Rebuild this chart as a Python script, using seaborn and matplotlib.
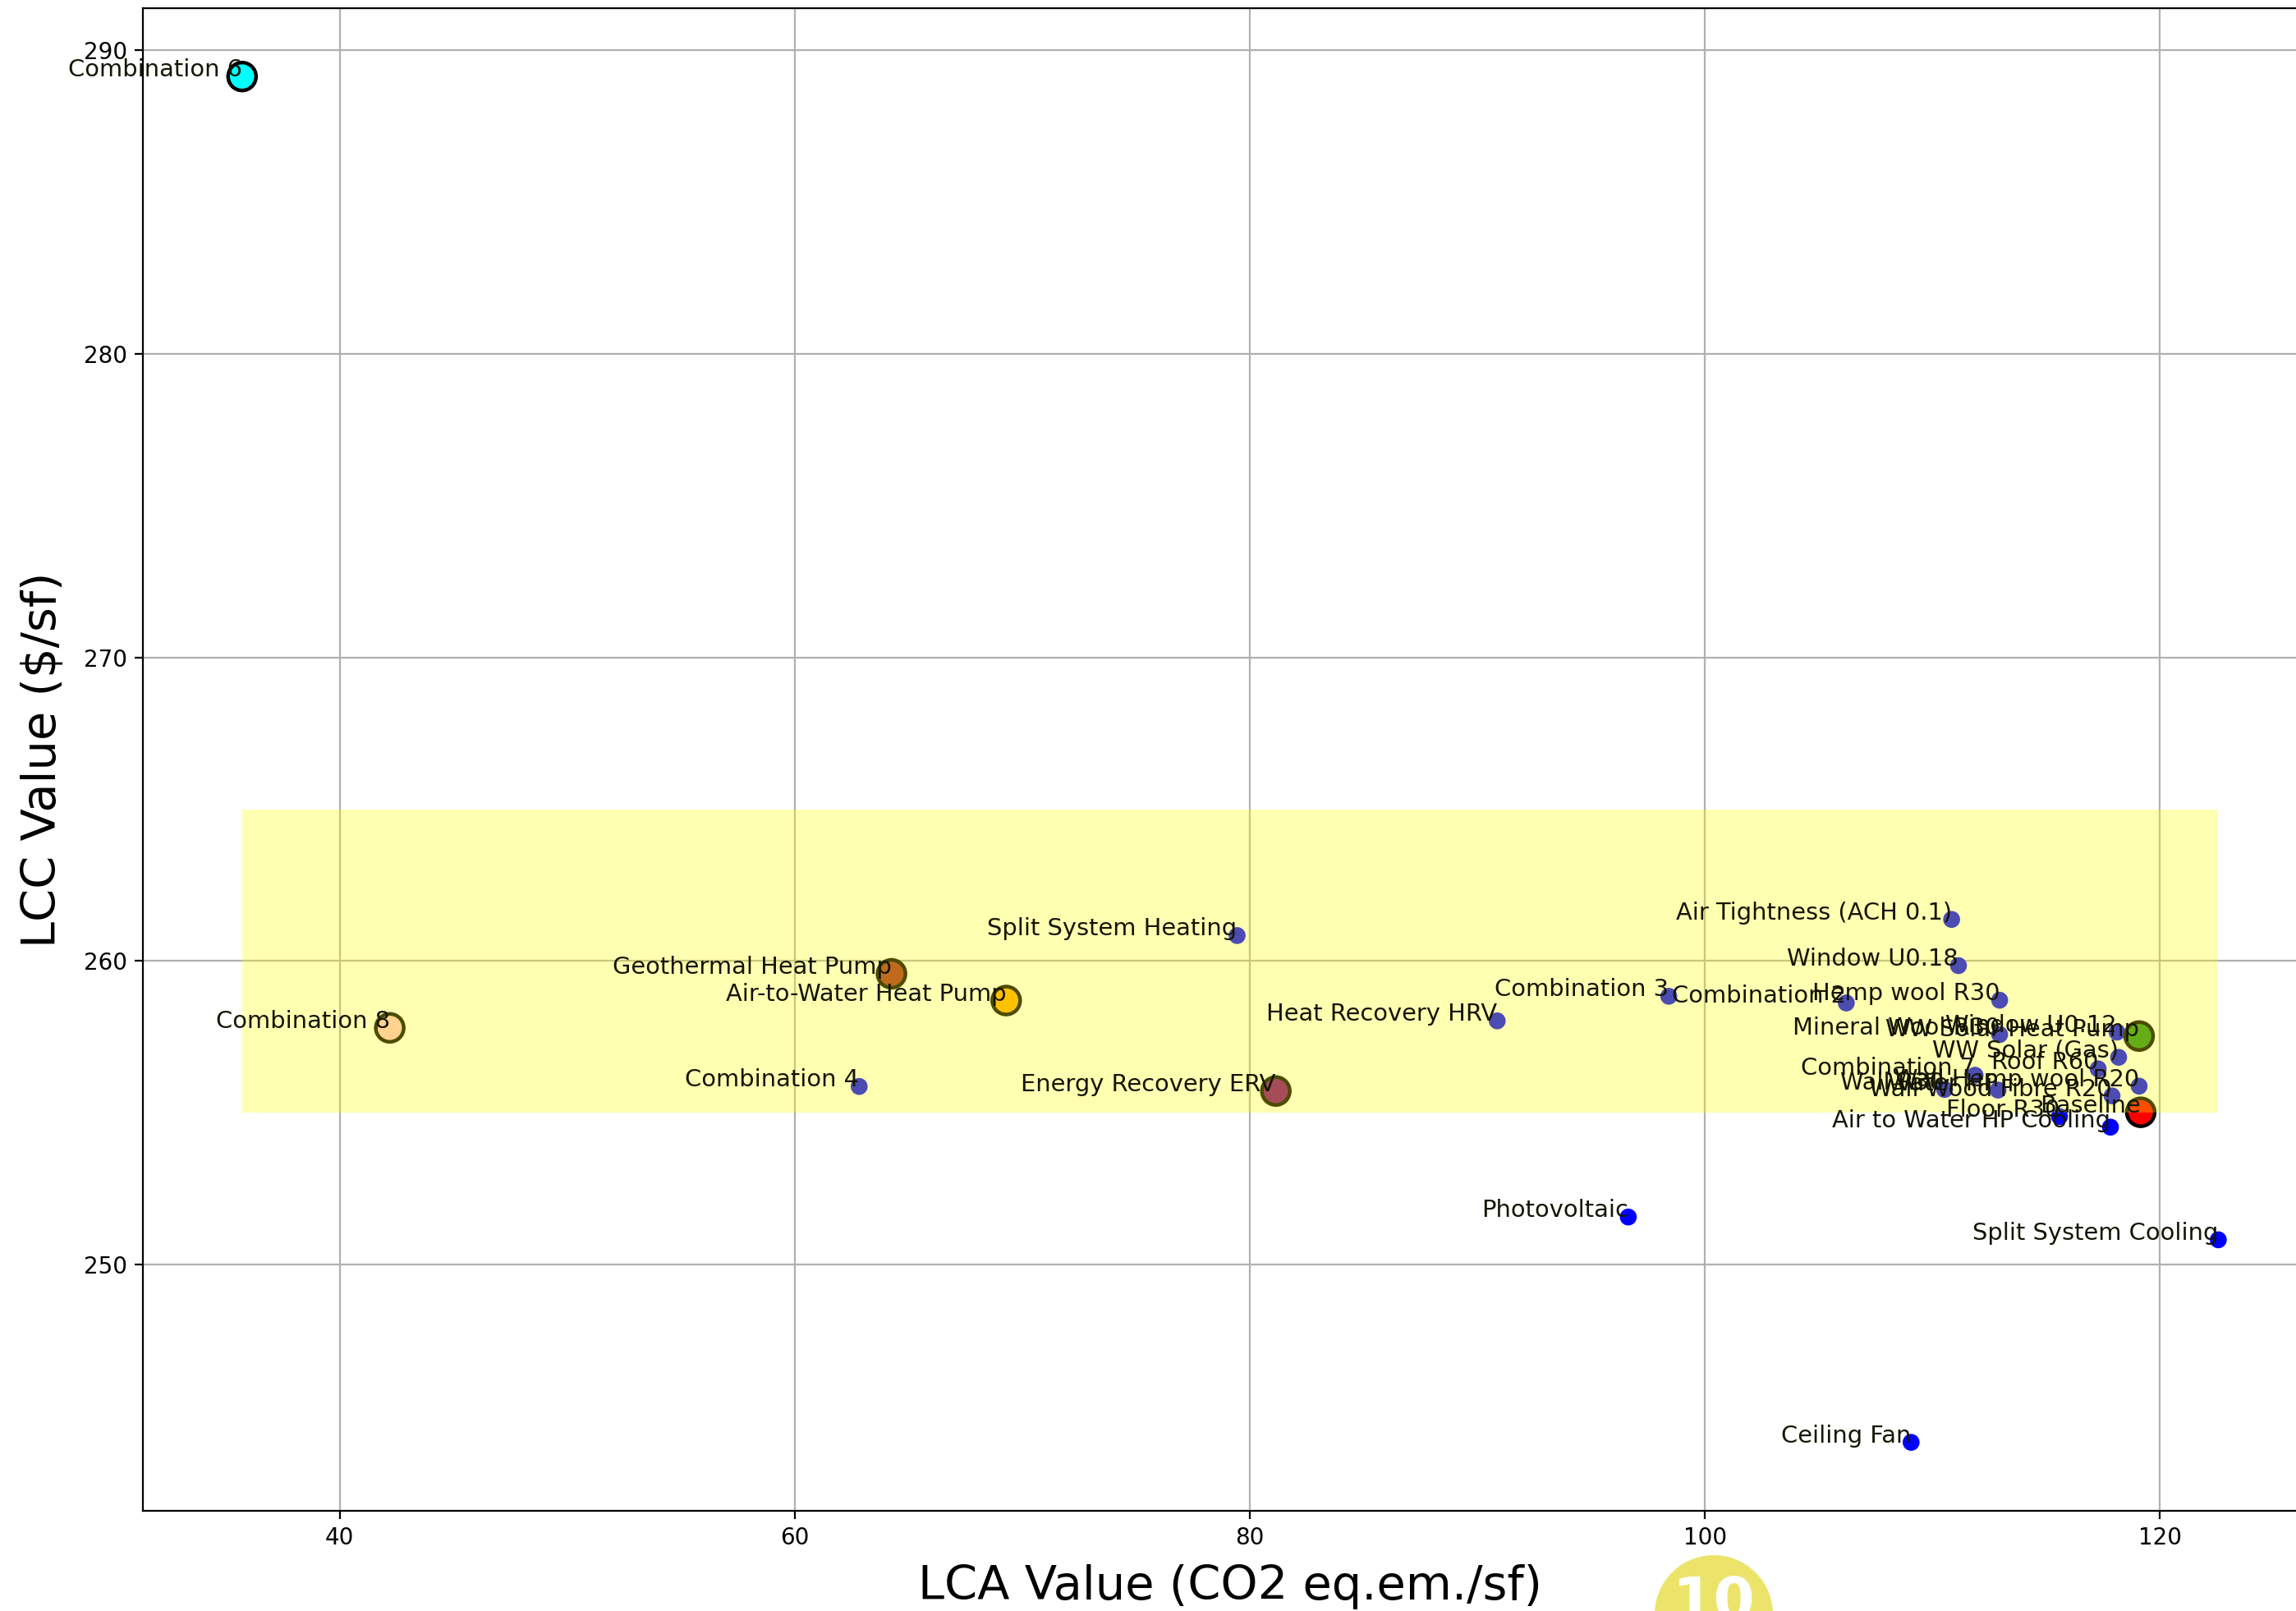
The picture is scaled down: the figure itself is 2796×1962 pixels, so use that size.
import matplotlib
matplotlib.use("Agg")
import matplotlib.pyplot as plt
import pandas as pd
import seaborn as sns
from matplotlib.patches import Circle

# Retrofit measures: life-cycle assessment vs life-cycle cost
labels = [
    "Combination 6", "Combination 8", "Geothermal Heat Pump", "Air-to-Water Heat Pump",
    "Energy Recovery ERV", "Combination 4", "Split System Heating", "Heat Recovery HRV",
    "Photovoltaic", "Combination 3", "Ceiling Fan", "Split System Cooling",
    "Air Tightness (ACH 0.1)", "Window U0.18", "Combination 2", "Hemp wool R30",
    "Mineral Wool R30", "Window U0.12", "WW Solar Heat Pump", "WW Solar (Gas)",
    "Roof R60", "Combination 7", "Wall R30", "Water HP", "Wall Hemp wool R20",
    "Wall Wood Fibre R20", "Baseline", "Floor R30", "Air to Water HP Cooling",
]
lca_values = [
    35.71, 42.20, 64.25, 69.29,
    81.14, 62.83, 79.44, 90.87,
    96.63, 98.41, 109.06, 122.56,
    110.84, 111.14, 106.21, 112.95,
    112.95, 118.11, 119.08, 118.18,
    117.28, 111.87, 110.53, 112.88, 119.08,
    117.89, 119.15, 115.58, 117.82,
]
lcc_values = [
    289.13, 257.80, 259.58, 258.70,
    255.72, 255.87, 260.84, 258.03,
    251.57, 258.84, 244.15, 250.82,
    261.37, 259.85, 258.62, 258.71,
    257.58, 257.66, 257.53, 256.83,
    256.45, 256.24, 255.77, 255.75, 255.88,
    255.56, 255.02, 254.88, 254.53,
]

# Measures drawn as large outlined markers
highlight_colors = {
    "Combination 6": "cyan",
    "Combination 8": "pink",
    "Geothermal Heat Pump": "brown",
    "Air-to-Water Heat Pump": "orange",
    "Energy Recovery ERV": "purple",
    "WW Solar Heat Pump": "forestgreen",
    "Baseline": "red",
}

# Target cost band
band_low, band_high = 255, 265

df = pd.DataFrame({"Measure": labels, "LCA": lca_values, "LCC": lcc_values})
df["highlight"] = df["Measure"].isin(list(highlight_colors))

plt.rcParams["font.family"] = ["DejaVu Sans"]

fig = plt.figure(figsize=(13.98, 9.81), dpi=200)
ax = fig.add_axes([0.0624, 0.0623, 0.9468, 0.9326])

sns.scatterplot(data=df[~df["highlight"]], x="LCA", y="LCC", color="blue",
                s=55, edgecolor="none", ax=ax, zorder=2)
sns.scatterplot(data=df[df["highlight"]], x="LCA", y="LCC", hue="Measure",
                palette=highlight_colors, s=150, edgecolor="black", linewidth=1.6,
                legend=False, ax=ax, zorder=3)

ax.fill_between([min(lca_values), max(lca_values)], band_low, band_high,
                color="yellow", alpha=0.3, linewidth=0, zorder=5)

for _, row in df.iterrows():
    ax.text(row["LCA"], row["LCC"], row["Measure"], fontsize=10.4, ha="right",
            color="#151505", zorder=12)

ax.grid(True, color="#b0b0b0", linewidth=0.8)
ax.set_axisbelow(True)
ax.tick_params(labelsize=10)
ax.set_xlabel("LCA Value (CO2 eq.em./sf)", fontsize=20.7, labelpad=6.5)
ax.set_ylabel("LCC Value ($/sf)", fontsize=20.7, labelpad=8)

# Page badge at the bottom edge
fig.patches.append(Circle((10.435, -0.02), 0.36, transform=fig.dpi_scale_trans,
                          facecolor="#ece46a", edgecolor="none", zorder=20))
fig.text(10.435 / 13.98, 0.005, "10", transform=fig.transFigure, ha="center",
         va="center", fontsize=26, fontweight="bold", color="white", zorder=21)

fig.savefig("out.png", dpi=200)
